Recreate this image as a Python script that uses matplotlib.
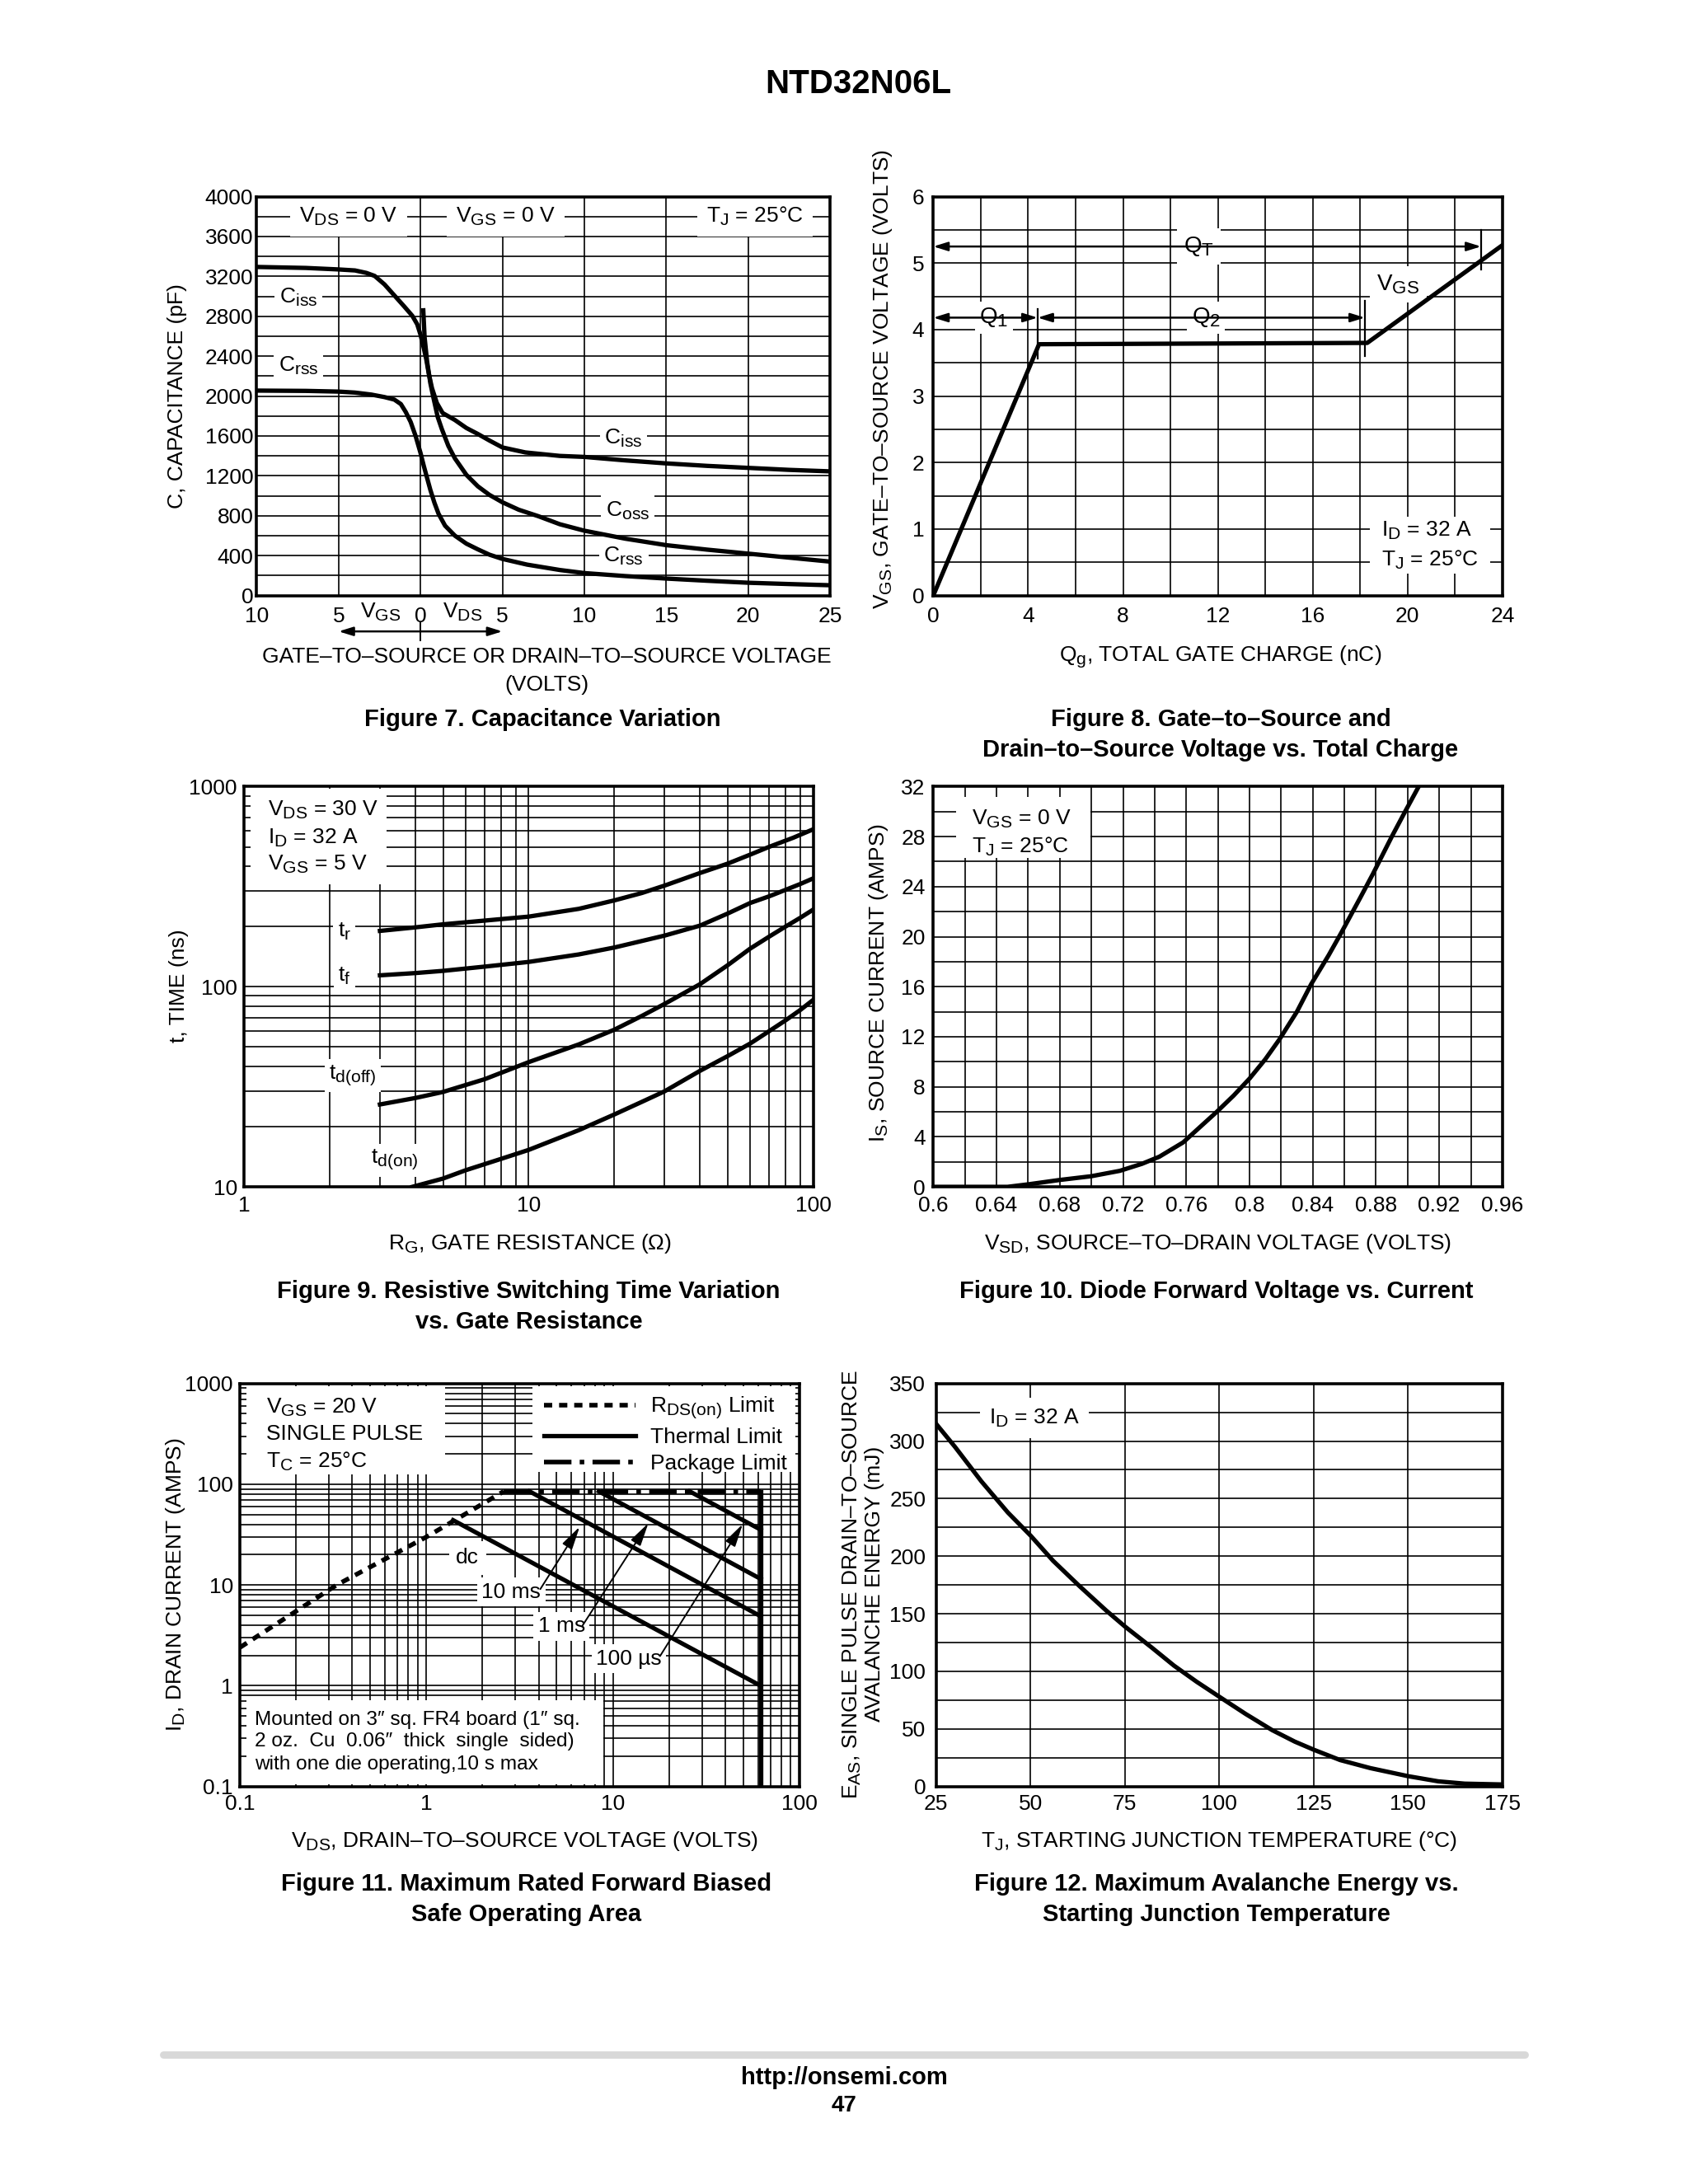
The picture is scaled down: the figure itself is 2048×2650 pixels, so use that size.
import numpy as np
import matplotlib
matplotlib.use('Agg')
import matplotlib.pyplot as plt
import matplotlib.transforms as mtransforms
import matplotlib._mathtext as _mt
from matplotlib.patches import Rectangle
from matplotlib.lines import Line2D
from matplotlib.ticker import MultipleLocator, LogLocator, NullFormatter

plt.rcParams['font.family'] = ['Liberation Sans', 'DejaVu Sans']
plt.rcParams['mathtext.fontset'] = 'custom'
plt.rcParams['mathtext.rm'] = 'Liberation Sans'
plt.rcParams['mathtext.it'] = 'Liberation Sans:italic'
plt.rcParams['mathtext.bf'] = 'Liberation Sans:bold'
plt.rcParams['font.size'] = 9.5
plt.rcParams['axes.linewidth'] = 1.3
_mt.SHRINK_FACTOR = 0.8  # datasheet subscripts are nearly full size

# ---------------- data ----------------
# Figure 7: capacitance (pF); negative x = VGS side, positive x = VDS side
ciss_v = [-10, -7, -5, -4, -3.3, -2.8, -2.2, -1.6, -1.0, -0.5, -0.2, 0, 0.2, 0.35, 0.5, 0.7,
          1.0, 1.35, 2.1, 2.8, 3.5, 4.2, 5, 6.4, 8.5, 10, 12.5, 15, 17.5, 20, 22.5, 25]
ciss_c = [3295, 3285, 3270, 3260, 3235, 3205, 3120, 3010, 2900, 2805, 2720, 2615, 2480, 2370, 2230, 2080,
          1930, 1830, 1760, 1680, 1620, 1555, 1485, 1435, 1400, 1390, 1355, 1325, 1300, 1280, 1260, 1245]
coss_v = [0.17, 0.25, 0.4, 0.6, 0.8, 1.05, 1.3, 1.7, 2.1, 2.8, 3.5, 4.2, 5, 6, 7.2, 8.5,
          10, 12.5, 15, 17.5, 20, 22.5, 25]
coss_c = [2860, 2590, 2350, 2130, 1975, 1790, 1670, 1500, 1375, 1210, 1095, 1010, 935, 860, 795, 715,
          650, 570, 505, 460, 420, 380, 340]
crss_v = [-10, -7, -5, -4, -3, -2.2, -1.6, -1.2, -0.9, -0.6, -0.3, 0, 0.2, 0.4, 0.6, 0.85,
          1.1, 1.5, 2.1, 2.8, 3.5, 4.2, 5, 6.5, 8.5, 10, 12.5, 15, 17.5, 20, 22.5, 25]
crss_c = [2055, 2052, 2045, 2035, 2015, 1990, 1965, 1920, 1840, 1740, 1600, 1430, 1300, 1180, 1060, 930,
          820, 700, 600, 520, 463, 410, 367, 310, 256, 225, 195, 170, 148, 128, 115, 103]
cap_xticks = [-10, -5, 0, 5, 10, 15, 20, 25]
cap_xticklabels = ['10', '5', '0', '5', '10', '15', '20', '25']

# Figure 8: gate charge
qg_nc = [0, 4.46, 18.3, 24]
vgs_v = [0, 3.78, 3.80, 5.27]

# Figure 9: switching times (ns) vs RG (ohm)
tr_rg = [3, 4, 5, 7, 10, 15, 20, 25, 30, 40, 50, 60, 70, 85, 100]
tr_ns = [190, 198, 205, 214, 224, 245, 270, 294, 320, 370, 412, 457, 500, 555, 612]
tf_rg = [3, 4, 5, 7, 10, 15, 20, 30, 40, 50, 60, 70, 80, 90, 100]
tf_ns = [114, 117, 120, 126, 133, 145, 157, 180, 202, 232, 262, 283, 305, 326, 348]
tdoff_rg = [3, 4, 5, 7, 10, 15, 20, 25, 30, 40, 50, 60, 70, 80, 90, 100]
tdoff_ns = [25.8, 27.8, 29.8, 34.5, 42, 51.5, 61, 71.5, 82, 103, 128, 155, 178, 200, 221, 243]
tdon_rg = [3.9, 5, 6, 8, 10, 15, 20, 25, 30, 40, 50, 60, 70, 80, 90, 100]
tdon_ns = [10, 11, 12.1, 13.8, 15.3, 19.2, 23, 26.6, 30, 38, 45, 52, 60, 68, 76.5, 86]

# Figure 10: diode forward characteristic
vsd_v = [0.6, 0.647, 0.66, 0.68, 0.70, 0.718, 0.732, 0.743, 0.758, 0.768, 0.779, 0.79, 0.80, 0.81,
         0.819, 0.83, 0.839, 0.85, 0.858, 0.87, 0.878, 0.89, 0.898, 0.907]
is_a = [0, 0, 0.2, 0.55, 0.85, 1.28, 1.84, 2.41, 3.55, 4.7, 5.96, 7.3, 8.65, 10.2,
        11.8, 14.0, 16.2, 18.5, 20.3, 23.1, 25.0, 28.0, 29.9, 32.0]
vsd_ticks = [0.6, 0.64, 0.68, 0.72, 0.76, 0.8, 0.84, 0.88, 0.92, 0.96]
vsd_ticklabels = ['0.6', '0.64', '0.68', '0.72', '0.76', '0.8', '0.84', '0.88', '0.92', '0.96']

# Figure 11: safe operating area
rds_v = [0.1, 0.33, 1.0, 2.6]
rds_i = [2.4, 10, 30, 85]
pkg_v = [2.6, 62]
pkg_i = [85, 85]
dc_v, dc_i = [1.39, 62], [44, 1.0]
ms10_v, ms10_i = [3.57, 62], [85, 4.9]
ms1_v, ms1_i = [8.4, 62], [85, 11.5]
us100_v, us100_i = [25.8, 62], [85, 35.4]
vmax_v, vmax_i = [62, 62], [0.1, 85]
soa_ticks = [0.1, 1, 10, 100, 1000]
soa_ticklabels = ['0.1', '1', '10', '100', '1000']

# Figure 12: avalanche energy
tj_c = [25, 30, 37, 44, 50, 56, 63, 70, 75, 82, 88, 94, 100, 107, 114, 120, 125, 132,
        140, 150, 158, 165, 175]
eas_mj = [315, 295, 265, 238, 218, 196, 174, 153, 139, 121, 105, 91, 78, 63, 49, 39, 32, 23,
          16, 9, 4.5, 2.5, 1.8]

# ---------------- helpers ----------------
fig = plt.figure(figsize=(10.24, 13.25), dpi=200)
fig.patch.set_facecolor('white')


def at(px, py):
    # position on the 1210 x 1566 page preview -> figure fraction
    return px / 1210.0, 1 - py / 1566.0


def box(l, t, r, b):
    x0, y1 = at(l, t)
    x1, y0 = at(r, b)
    return [x0, y0, x1 - x0, y1 - y0]


def ftext(px, py, s, **kw):
    x, y = at(px, py)
    kw.setdefault('ha', 'center')
    kw.setdefault('va', 'center')
    fig.text(x, y, s, **kw)


def sub(b, s):
    return r'$\mathrm{%s_{%s}}$' % (b, s)


def frame(ax, xpad=4.0, ypad=3.0):
    ax.set_axisbelow(True)
    ax.grid(which='both', color='black', lw=0.6)
    ax.tick_params(which='both', length=0, labelsize=9.5)
    ax.tick_params(axis='x', pad=xpad)
    ax.tick_params(axis='y', pad=ypad)


def boxed(ax, x, y, s, pad=2.0, **kw):
    kw.setdefault('ha', 'center')
    kw.setdefault('va', 'center')
    return ax.text(x, y, s, zorder=2.4,
                   bbox=dict(facecolor='white', edgecolor='none', pad=pad), **kw)


def white(ax, x0, y0, w, h):
    ax.add_patch(Rectangle((x0, y0), w, h, transform=ax.transAxes, facecolor='white',
                           edgecolor='none', zorder=2.3))


CURVE = dict(color='black', lw=1.9, zorder=3, solid_joinstyle='round')
ARROW = dict(arrowstyle='<|-|>,head_length=0.55,head_width=0.17', color='black', lw=0.9,
             shrinkA=0, shrinkB=0)

ftext(615, 60, 'NTD32N06L', fontsize=14.5, fontweight='bold')

# ---------------- Figure 7 ----------------
ax7 = fig.add_axes(box(184, 141, 595, 427))
ax7.plot(ciss_v, ciss_c, **CURVE)
ax7.plot(coss_v, coss_c, **CURVE)
ax7.plot(crss_v, crss_c, **CURVE)
ax7.set_xlim(-10, 25)
ax7.set_ylim(0, 4000)
ax7.set_xticks(cap_xticks)
ax7.set_xticklabels(cap_xticklabels)
ax7.xaxis.set_minor_locator(MultipleLocator(5))
ax7.yaxis.set_major_locator(MultipleLocator(400))
ax7.yaxis.set_minor_locator(MultipleLocator(200))
frame(ax7, xpad=5, ypad=1.5)
boxed(ax7, -4.4, 3800, sub('V', 'DS') + ' = 0 V', pad=4)
boxed(ax7, 5.2, 3800, sub('V', 'GS') + ' = 0 V', pad=4)
boxed(ax7, 20.4, 3800, sub('T', 'J') + ' = 25°C', pad=4)
boxed(ax7, -7.45, 2990, sub('C', 'iss'))
boxed(ax7, -7.45, 2300, sub('C', 'rss'))
boxed(ax7, 12.4, 1580, sub('C', 'iss'))
boxed(ax7, 12.65, 850, sub('C', 'oss'))
boxed(ax7, 12.4, 390, sub('C', 'rss'))
bt7 = mtransforms.blended_transform_factory(ax7.transData, ax7.transAxes)
ax7.text(-2.45, -0.043, sub('V', 'GS'), transform=bt7, ha='center', va='center')
ax7.text(2.55, -0.043, sub('V', 'DS'), transform=bt7, ha='center', va='center')
ax7.annotate('', xy=(5, -0.09), xytext=(-5, -0.09), xycoords=bt7, textcoords=bt7,
             arrowprops=ARROW, annotation_clip=False)
ax7.plot([0, 0], [-0.068, -0.112], transform=bt7, color='black', lw=0.7, clip_on=False)
ftext(127, 284, 'C, CAPACITANCE (pF)', rotation=90)
ftext(392, 471, 'GATE–TO–SOURCE OR DRAIN–TO–SOURCE VOLTAGE')
ftext(392, 491, '(VOLTS)')
ftext(389, 516, 'Figure 7. Capacitance Variation', fontsize=10.5, fontweight='bold')

# ---------------- Figure 8 ----------------
ax8 = fig.add_axes(box(669, 141, 1077, 427))
ax8.plot(qg_nc, vgs_v, **CURVE)
ax8.set_xlim(0, 24)
ax8.set_ylim(0, 6)
ax8.xaxis.set_major_locator(MultipleLocator(4))
ax8.xaxis.set_minor_locator(MultipleLocator(2))
ax8.yaxis.set_major_locator(MultipleLocator(1))
ax8.yaxis.set_minor_locator(MultipleLocator(0.5))
frame(ax8, xpad=5, ypad=4)
ax8.annotate('', xy=(23.1, 5.25), xytext=(0, 5.25), arrowprops=ARROW)
ax8.annotate('', xy=(4.4, 4.18), xytext=(0, 4.18), arrowprops=ARROW)
ax8.annotate('', xy=(18.2, 4.18), xytext=(4.4, 4.18), arrowprops=ARROW)
ax8.plot([23.1, 23.1], [4.9, 5.5], color='black', lw=0.8)
ax8.plot([4.4, 4.4], [3.57, 4.31], color='black', lw=0.8)
ax8.plot([18.2, 18.2], [3.6, 4.43], color='black', lw=0.8)
boxed(ax8, 11.2, 5.25, sub('Q', 'T'), pad=3, fontsize=10)
boxed(ax8, 2.55, 4.18, sub('Q', '1'), pad=2, fontsize=10)
boxed(ax8, 11.5, 4.18, sub('Q', '2'), pad=2, fontsize=10)
boxed(ax8, 19.6, 4.68, sub('V', 'GS'), pad=3, fontsize=10)
white(ax8, 0.767, 0.055, 0.212, 0.142)
ax8.text(18.9, 0.97, sub('I', 'D') + ' = 32 A', ha='left', va='center', zorder=2.4)
ax8.text(18.9, 0.54, sub('T', 'J') + ' = 25°C', ha='left', va='center', zorder=2.4)
ftext(633, 272, sub('V', 'GS') + ', GATE–TO–SOURCE VOLTAGE (VOLTS)', rotation=90)
ftext(875, 471, sub('Q', 'g') + ', TOTAL GATE CHARGE (nC)')
ftext(875, 516, 'Figure 8. Gate–to–Source and', fontsize=10.5, fontweight='bold')
ftext(875, 538, 'Drain–to–Source Voltage vs. Total Charge', fontsize=10.5, fontweight='bold')

# ---------------- Figure 9 ----------------
ax9 = fig.add_axes(box(175, 564, 583, 851))
ax9.plot(tr_rg, tr_ns, **CURVE)
ax9.plot(tf_rg, tf_ns, **CURVE)
ax9.plot(tdoff_rg, tdoff_ns, **CURVE)
ax9.plot(tdon_rg, tdon_ns, **CURVE)
ax9.set_xscale('log')
ax9.set_yscale('log')
ax9.set_xlim(1, 100)
ax9.set_ylim(10, 1000)
ax9.set_xticks([1, 10, 100])
ax9.set_xticklabels(['1', '10', '100'])
ax9.set_yticks([10, 100, 1000])
ax9.set_yticklabels(['10', '100', '1000'])
for a in (ax9.xaxis, ax9.yaxis):
    a.set_minor_locator(LogLocator(base=10, subs=np.arange(2, 10), numticks=20))
    a.set_minor_formatter(NullFormatter())
frame(ax9, xpad=4, ypad=3)
white(ax9, 0.012, 0.755, 0.238, 0.24)
ax9.text(0.042, 0.941, sub('V', 'DS') + ' = 30 V', transform=ax9.transAxes, va='center', zorder=2.4)
ax9.text(0.042, 0.871, sub('I', 'D') + ' = 32 A', transform=ax9.transAxes, va='center', zorder=2.4)
ax9.text(0.042, 0.805, sub('V', 'GS') + ' = 5 V', transform=ax9.transAxes, va='center', zorder=2.4)
boxed(ax9, 2.25, 188, sub('t', 'r'))
boxed(ax9, 2.25, 113, sub('t', 'f'))
boxed(ax9, 2.41, 36, sub('t', 'd(off)'))
boxed(ax9, 3.38, 13.6, sub('t', 'd(on)'))
ftext(128, 707, 't, TIME (ns)', rotation=90)
ftext(380, 892, sub('R', 'G') + ', GATE RESISTANCE (Ω)')
ftext(379, 926, 'Figure 9. Resistive Switching Time Variation', fontsize=10.5, fontweight='bold')
ftext(379, 948, 'vs. Gate Resistance', fontsize=10.5, fontweight='bold')

# ---------------- Figure 10 ----------------
ax10 = fig.add_axes(box(669, 564, 1077, 851))
ax10.plot(vsd_v, is_a, **CURVE)
ax10.set_xlim(0.6, 0.96)
ax10.set_ylim(0, 32)
ax10.set_xticks(vsd_ticks)
ax10.set_xticklabels(vsd_ticklabels)
ax10.xaxis.set_minor_locator(MultipleLocator(0.02))
ax10.yaxis.set_major_locator(MultipleLocator(4))
ax10.yaxis.set_minor_locator(MultipleLocator(2))
frame(ax10, xpad=4, ypad=3.5)
white(ax10, 0.04, 0.822, 0.236, 0.153)
ax10.text(0.6245, 29.4, sub('V', 'GS') + ' = 0 V', ha='left', va='center', zorder=2.4)
ax10.text(0.6245, 27.2, sub('T', 'J') + ' = 25°C', ha='left', va='center', zorder=2.4)
ftext(630, 705, sub('I', 'S') + ', SOURCE CURRENT (AMPS)', rotation=90)
ftext(873, 892, sub('V', 'SD') + ', SOURCE–TO–DRAIN VOLTAGE (VOLTS)')
ftext(872, 926, 'Figure 10. Diode Forward Voltage vs. Current', fontsize=10.5, fontweight='bold')

# ---------------- Figure 11 ----------------
ax11 = fig.add_axes(box(172, 992, 573, 1281))
l_rds, = ax11.plot(rds_v, rds_i, color='black', lw=2.0, zorder=3, dashes=(1.8, 1.5))
l_pkg, = ax11.plot(pkg_v, pkg_i, color='black', lw=2.0, zorder=3, dashes=(6, 1.8, 1, 1.8))
l_dc, = ax11.plot(dc_v, dc_i, **CURVE)
ax11.plot(ms10_v, ms10_i, **CURVE)
ax11.plot(ms1_v, ms1_i, **CURVE)
ax11.plot(us100_v, us100_i, **CURVE)
ax11.plot(vmax_v, vmax_i, **CURVE)
ax11.set_xscale('log')
ax11.set_yscale('log')
ax11.set_xlim(0.1, 100)
ax11.set_ylim(0.1, 1000)
ax11.set_xticks(soa_ticks[:4])
ax11.set_xticklabels(soa_ticklabels[:4])
ax11.set_yticks(soa_ticks)
ax11.set_yticklabels(soa_ticklabels)
for a in (ax11.xaxis, ax11.yaxis):
    a.set_minor_locator(LogLocator(base=10, subs=np.arange(2, 10), numticks=20))
    a.set_minor_formatter(NullFormatter())
frame(ax11, xpad=3.5, ypad=3)
white(ax11, 0.012, 0.774, 0.354, 0.22)
white(ax11, 0.523, 0.78, 0.47, 0.214)
white(ax11, 0.012, 0.006, 0.637, 0.208)
ax11.text(0.047, 0.941, sub('V', 'GS') + ' = 20 V', transform=ax11.transAxes, va='center', zorder=2.4)
ax11.text(0.047, 0.875, 'SINGLE PULSE', transform=ax11.transAxes, va='center', zorder=2.4)
ax11.text(0.047, 0.806, sub('T', 'C') + ' = 25°C', transform=ax11.transAxes, va='center', zorder=2.4)
leg = ax11.legend([l_rds, l_dc, l_pkg],
                  [sub('R', 'DS(on)') + ' Limit', 'Thermal Limit', 'Package Limit'],
                  loc='upper right', frameon=False, handlelength=4.2, handletextpad=0.7,
                  labelspacing=0.3, borderaxespad=0.35, borderpad=0.2, fontsize=9.5)
leg.set_zorder(2.45)
ax11.text(0.027, 0.166, 'Mounted on 3″ sq. FR4 board (1″ sq.', transform=ax11.transAxes,
          va='center', fontsize=8.8, zorder=2.4)
ax11.text(0.027, 0.111, '2 oz.  Cu  0.06″  thick  single  sided)', transform=ax11.transAxes,
          va='center', fontsize=8.8, zorder=2.4)
ax11.text(0.027, 0.055, 'with one die operating,10 s max', transform=ax11.transAxes,
          va='center', fontsize=8.8, zorder=2.4)
boxed(ax11, 1.66, 18.6, 'dc', pad=3)
boxed(ax11, 2.85, 8.5, '10 ms', pad=2)
boxed(ax11, 5.3, 3.9, '1 ms', pad=2)
boxed(ax11, 12.2, 1.85, '100 µs', pad=2)
THIN = dict(arrowstyle='-|>,head_length=0.9,head_width=0.22', color='black', lw=0.7,
            shrinkA=0, shrinkB=0)
ax11.annotate('', xy=(6.64, 37.9), xytext=(4.08, 9.1), arrowprops=THIN)
ax11.annotate('', xy=(15.5, 41.1), xytext=(6.88, 3.97), arrowprops=THIN)
ax11.annotate('', xy=(49.7, 40.3), xytext=(17.9, 1.97), arrowprops=THIN)
ftext(126, 1136, sub('I', 'D') + ', DRAIN CURRENT (AMPS)', rotation=90)
ftext(376, 1320, sub('V', 'DS') + ', DRAIN–TO–SOURCE VOLTAGE (VOLTS)')
ftext(377, 1351, 'Figure 11. Maximum Rated Forward Biased', fontsize=10.5, fontweight='bold')
ftext(377, 1373, 'Safe Operating Area', fontsize=10.5, fontweight='bold')

# ---------------- Figure 12 ----------------
ax12 = fig.add_axes(box(671, 992, 1077, 1281))
ax12.plot(tj_c, eas_mj, **CURVE)
ax12.set_xlim(25, 175)
ax12.set_ylim(0, 350)
ax12.xaxis.set_major_locator(MultipleLocator(25))
ax12.yaxis.set_major_locator(MultipleLocator(50))
ax12.yaxis.set_minor_locator(MultipleLocator(25))
frame(ax12, xpad=3.5, ypad=4.5)
boxed(ax12, 51, 320, sub('I', 'D') + ' = 32 A', pad=4)
ftext(611, 1136, sub('E', 'AS') + ', SINGLE PULSE DRAIN–TO–SOURCE', rotation=90)
ftext(627, 1136, 'AVALANCHE ENERGY (mJ)', rotation=90)
ftext(874, 1320, sub('T', 'J') + ', STARTING JUNCTION TEMPERATURE (°C)')
ftext(872, 1351, 'Figure 12. Maximum Avalanche Energy vs.', fontsize=10.5, fontweight='bold')
ftext(872, 1373, 'Starting Junction Temperature', fontsize=10.5, fontweight='bold')

# ---------------- footer ----------------
x0, yl = at(117, 1473)
x1, _ = at(1093, 1473)
fig.add_artist(Line2D([x0, x1], [yl, yl], transform=fig.transFigure, color='#d8d8d8',
                      lw=3.2, solid_capstyle='round'))
ftext(605, 1490, 'http://onsemi.com', fontsize=10.5, fontweight='bold')
ftext(605, 1510, '47', fontsize=10, fontweight='bold')

fig.savefig('out.png', dpi=200, facecolor='white')
